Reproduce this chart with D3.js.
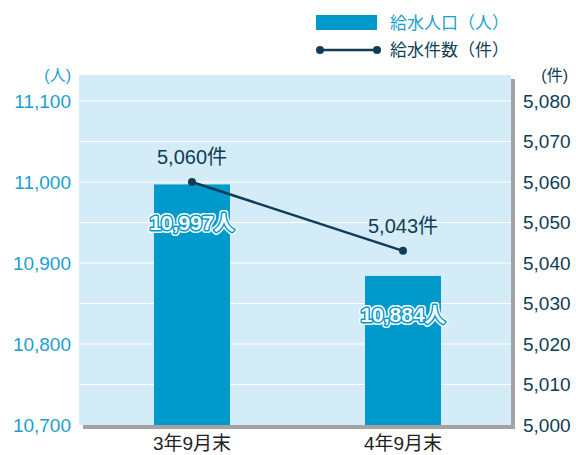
<!DOCTYPE html>
<html><head><meta charset="utf-8">
<script src="https://cdn.jsdelivr.net/npm/d3@7"></script>
<style>body{margin:0;background:#fff}svg{display:block}text{font-family:"Liberation Sans","Noto Sans CJK JP",sans-serif}</style>
</head><body><svg id="c" width="576" height="455"></svg>
<script>
const categories = ["3年9月末", "4年9月末"];
const population = [10997, 10884];
const connections = [5060, 5043];
const leftTicks = [10700, 10800, 10900, 11000, 11100];
const rightTicks = [5000, 5010, 5020, 5030, 5040, 5050, 5060, 5070, 5080];
const seriesNames = ["給水人口（人）", "給水件数（件）"];

const svg = d3.select("#c");
const L = 79, R = 511, T = 75, B = 425;
const blue = "#0099cc", navy = "#0f3d55", lblue = "#1a9fd4";

const x = d3.scaleBand().domain(categories).range([86.5, 508.5]).paddingInner(0.64).paddingOuter(0.32);
const yL = d3.scaleLinear().domain([10700, 11100]).range([B, 101]);
const yR = d3.scaleLinear().domain([5000, 5080]).range([B, 101]);

// shadow
svg.append("rect").attr("x", L + 4).attr("y", T + 4).attr("width", R - L).attr("height", B - T).attr("fill", "#a3a3a3");
svg.append("rect").attr("x", L).attr("y", T).attr("width", R - L).attr("height", B - T).attr("fill", "#d4ebf8");

// gridlines
svg.append("g").selectAll("line").data(rightTicks.slice(1)).join("line")
  .attr("x1", L).attr("x2", R).attr("y1", d => yR(d)).attr("y2", d => yR(d))
  .attr("stroke", "#fff").attr("stroke-width", 1.2);

// bars
svg.append("g").selectAll("rect").data(population).join("rect")
  .attr("x", (d, i) => x(categories[i])).attr("width", x.bandwidth())
  .attr("y", d => yL(d)).attr("height", d => B - yL(d)).attr("fill", blue);

// left axis
const axL = d3.axisLeft(yL).tickValues(leftTicks).tickSize(0).tickPadding(8).tickFormat(d3.format(","));
const gL = svg.append("g").attr("transform", `translate(${L},0)`).call(axL);
gL.select(".domain").remove();
gL.selectAll("text").attr("fill", lblue).attr("font-size", 19);
svg.append("text").attr("x", 71).attr("y", 81).attr("text-anchor", "end").attr("fill", lblue).attr("font-size", 16).text("(人)");

// right axis
const axR = d3.axisRight(yR).tickValues(rightTicks).tickSize(0).tickPadding(12).tickFormat(d3.format(","));
const gR = svg.append("g").attr("transform", `translate(${R},0)`).call(axR);
gR.select(".domain").remove();
gR.selectAll("text").attr("fill", navy).attr("font-size", 19);
svg.append("text").attr("x", 568).attr("y", 81).attr("text-anchor", "end").attr("fill", navy).attr("font-size", 16).text("(件)");

// x axis labels
svg.append("g").selectAll("text").data(categories).join("text")
  .attr("x", d => x(d) + x.bandwidth() / 2).attr("y", 450).attr("text-anchor", "middle")
  .attr("fill", "#222").attr("font-size", 19).text(d => d);

// line
const cx = (d, i) => x(categories[i]) + x.bandwidth() / 2;
svg.append("path").datum(connections)
  .attr("d", d3.line().x(cx).y(d => yR(d)))
  .attr("fill", "none").attr("stroke", navy).attr("stroke-width", 2.5);
svg.append("g").selectAll("circle").data(connections).join("circle")
  .attr("cx", cx).attr("cy", d => yR(d)).attr("r", 4).attr("fill", navy);
svg.append("g").selectAll("text").data(connections).join("text")
  .attr("x", cx).attr("y", d => yR(d) - 18).attr("text-anchor", "middle")
  .attr("fill", navy).attr("font-size", 20).text(d => d3.format(",")(d) + "件");

// bar labels
const bl = svg.append("g");
const layers = [{s: "#fff", w: 6}, {s: blue, w: 3}, {s: "none", w: 0}];
layers.forEach(ly => {
  bl.append("g").selectAll("text").data(population).join("text")
    .attr("x", cx).attr("y", d => yL(d) + 46).attr("text-anchor", "middle")
    .attr("font-size", 21).attr("font-weight", "bold").attr("fill", "#fff")
    .attr("stroke", ly.s).attr("stroke-width", ly.w).attr("stroke-linejoin", "round")
    .text(d => d3.format(",")(d) + "人");
});

// legend
svg.append("rect").attr("x", 316).attr("y", 15).attr("width", 61).attr("height", 15).attr("fill", blue);
svg.append("text").attr("x", 390).attr("y", 29).attr("fill", lblue).attr("font-size", 17).text(seriesNames[0]);
svg.append("line").attr("x1", 320).attr("x2", 377).attr("y1", 50).attr("y2", 50).attr("stroke", navy).attr("stroke-width", 2.5);
[320, 377].forEach(px => svg.append("circle").attr("cx", px).attr("cy", 50).attr("r", 4).attr("fill", navy));
svg.append("text").attr("x", 390).attr("y", 56).attr("fill", navy).attr("font-size", 17).text(seriesNames[1]);
</script></body></html>
